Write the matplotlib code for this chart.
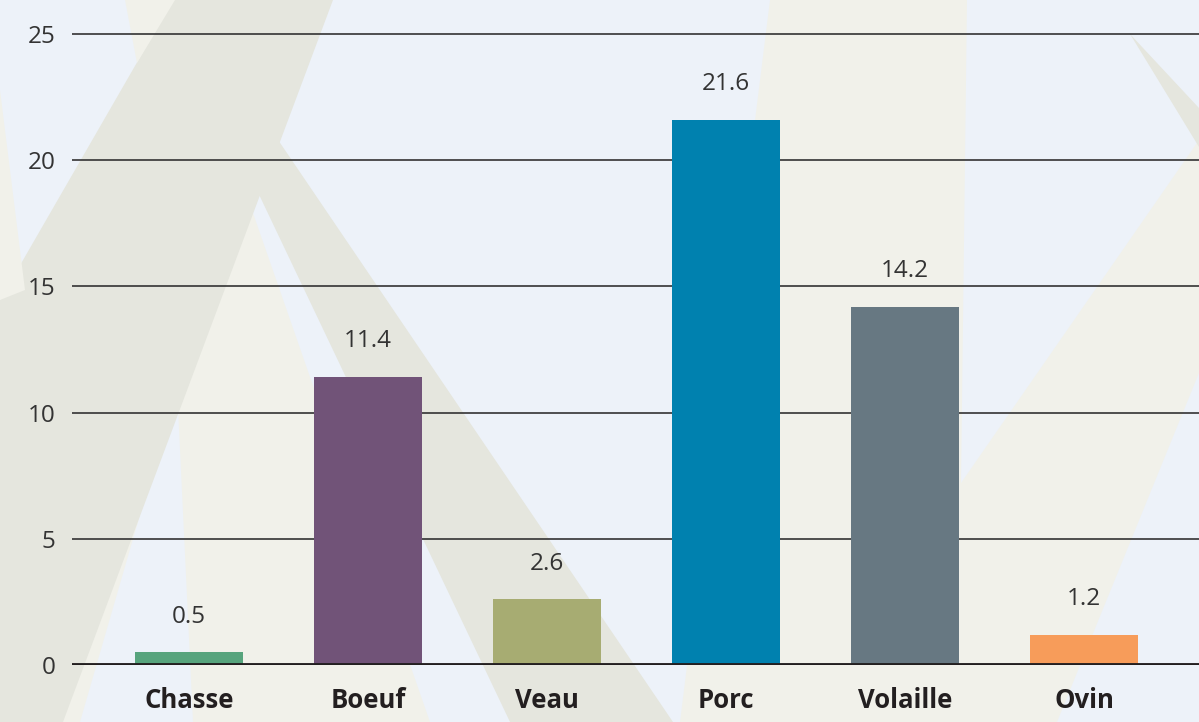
import matplotlib
matplotlib.use("Agg")
import matplotlib.pyplot as plt
from matplotlib.patches import Polygon

plt.rcParams["font.family"] = ["Open Sans", "DejaVu Sans"]

categories = ["Chasse", "Boeuf", "Veau", "Porc", "Volaille", "Ovin"]
values = [0.5, 11.4, 2.6, 21.6, 14.2, 1.2]
bar_colors = ["#57A47D", "#715378", "#A7AC72", "#0081AF", "#677882", "#F79C5A"]
yticks = [0, 5, 10, 15, 20, 25]

BLUE = "#EDF2F9"
LIGHT = "#F1F1EA"
DARK = "#E5E6DE"
TEXT = "#333333"

W, H = 1199, 722
fig = plt.figure(figsize=(W / 100, H / 100), dpi=100, facecolor=BLUE)

# decorative background shapes (pixel coords, y pointing down)
bg = fig.add_axes([0, 0, 1, 1], zorder=-1)
bg.set_xlim(0, W)
bg.set_ylim(H, 0)
bg.axis("off")
shapes = [
    (LIGHT, [(245, 190), (30, 722), (430, 722)]),
    (BLUE, [(177, 387), (80, 722), (193, 722)]),
    (DARK, [(214, 100), (251, 100), (673, 722), (510, 722)]),
    (DARK, [(173, 0), (333, 0), (63, 722), (0, 722), (0, 300)]),
    (LIGHT, [(125, 0), (175, 0), (137, 63)]),
    (LIGHT, [(0, 90), (25, 290), (0, 300)]),
    (LIGHT, [(770, 0), (967, 0), (961, 483), (1199, 140), (1199, 373),
             (1057, 722), (680, 722)]),
    (DARK, [(1130, 34), (1199, 108), (1199, 147)]),
]
for col, pts in shapes:
    bg.add_patch(Polygon(pts, closed=True, facecolor=col, edgecolor="none"))

ax = fig.add_axes([72 / W, 57 / H, (W - 72) / W, 665 / H])
ax.set_facecolor("none")
x = range(len(categories))
ax.bar(x, values, width=0.6, color=bar_colors, zorder=2)
for i, v in enumerate(values):
    ax.annotate(f"{v:.1f}", (i, v), xytext=(0, 21.5), textcoords="offset points",
                ha="center", va="baseline", fontsize=17.5, color=TEXT)

ax.set_xlim(-0.654, 5.642)
ax.set_ylim(0, 26.35)
ax.set_yticks(yticks)
ax.set_xticks(list(x))
ax.set_xticklabels(categories, fontweight="bold", fontsize=18.5, color="#231F20")
ax.tick_params(axis="y", length=0, pad=12, labelsize=17.5, labelcolor=TEXT)
ax.tick_params(axis="x", length=0, pad=16)
ax.set_axisbelow(True)
ax.yaxis.grid(True, color="#333333", linewidth=1.2)
ax.axhline(0, color="#231F20", linewidth=3.5, zorder=3)
for s in ax.spines.values():
    s.set_visible(False)

fig.savefig("out.png", dpi=100, facecolor=BLUE)
